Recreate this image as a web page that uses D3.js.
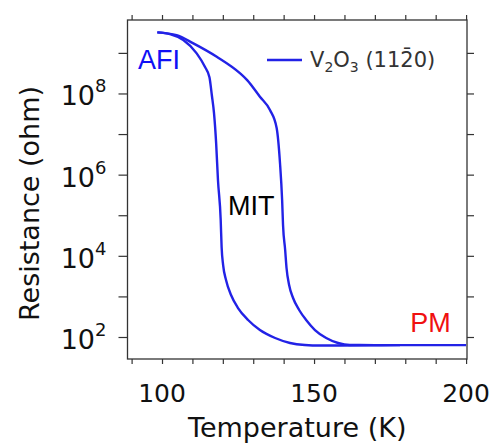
<!DOCTYPE html>
<html><head><meta charset="utf-8">
<script src="https://cdn.jsdelivr.net/npm/d3@7"></script>
<style>html,body{margin:0;padding:0;background:#fff;}svg{display:block;}</style>
</head><body>
<svg id="chart" width="496" height="448"></svg>
<script>
// Heating curve (outer branch), temperature in K and log10(R / ohm)
const heatTemp = [98.45,104.8,110.3,118.0,125.7,128.0,132.2,135.5,137.7,138.8,139.5,139.8,140.5,140.95,141.8,143.1,145.1,147.4,150.3,154.0,157.9,161.8,170.0,178.3];
const heatLogR = [9.505,9.438,9.234,8.904,8.495,8.33,7.919,7.591,7.148,6.286,5.374,4.759,4.143,3.700,3.281,2.961,2.665,2.419,2.172,1.975,1.852,1.803,1.80,1.80];
// Cooling curve (inner branch)
const coolTemp = [98.45,102.6,107.0,111.4,114.1,115.6,116.4,117.1,117.8,118.4,119.3,119.6,120.1,121.05,122.7,125.0,128.3,132.2,137.2,142.1,147.0,152.0,158.6,170.0,178.3,190.0,200.0];
const coolLogR = [9.505,9.463,9.315,8.988,8.658,8.40,7.95,7.517,6.778,5.867,4.882,4.217,3.773,3.404,3.034,2.714,2.419,2.172,1.975,1.852,1.803,1.79,1.79,1.795,1.80,1.80,1.80];
const xTickValues = [100,150,200];
const xMinorTicks = [90,100,110,120,130,140,150,160,170,180,190,200];
const yTickExps = [2,3,4,5,6,7,8,9];
const yLabelExps = [2,4,6,8];
const annotations = [
  {text:"AFI", t:92.1, logR:8.6, color:"#1010f5"},
  {text:"MIT", t:121.7, logR:5.0, color:"#000000"},
  {text:"PM", t:181.6, logR:2.13, color:"#f01010"}
];
const legendLabel = "V";

const svg = d3.select("#chart");
const L = 127.5, R = 467, T = 20, B = 359;
const x = d3.scaleLinear().domain([88.65, 200.3]).range([L, R]);
const y = d3.scaleLog().domain([Math.pow(10,1.458), Math.pow(10,9.81)]).range([B, T]);
const axisColor = "#333";

// frame
svg.append("rect").attr("x",L).attr("y",T).attr("width",R-L).attr("height",B-T)
  .attr("fill","none").attr("stroke",axisColor).attr("stroke-width",1.3);

// x axes (bottom & top)
const xb = d3.axisBottom(x).tickValues(xMinorTicks).tickSize(5).tickFormat("");
const gxb = svg.append("g").attr("transform",`translate(0,${B})`).call(xb);
const xt = d3.axisTop(x).tickValues(xMinorTicks).tickSize(5).tickFormat("");
const gxt = svg.append("g").attr("transform",`translate(0,${T})`).call(xt);
// y axes (left & right)
const yVals = yTickExps.map(e=>Math.pow(10,e));
const yl = d3.axisLeft(y).tickValues(yVals).tickSize(9).tickFormat("");
const gyl = svg.append("g").attr("transform",`translate(${L},0)`).call(yl);
const yr = d3.axisRight(y).tickValues(yVals).tickSize(7).tickFormat("");
const gyr = svg.append("g").attr("transform",`translate(${R},0)`).call(yr);
[gxb,gxt,gyl,gyr].forEach(g=>{
  g.select(".domain").remove();
  g.selectAll(".tick line").attr("stroke",axisColor).attr("stroke-width",1.2);
});

// x tick labels
svg.append("g").selectAll("text").data(xTickValues).join("text")
  .attr("x",d=>x(d)).attr("y",B+43).attr("text-anchor","middle")
  .attr("font-family","DejaVu Sans").attr("font-size",25).attr("fill","#111")
  .text(d=>d);

// y tick labels 10^n
const yl_g = svg.append("g");
yLabelExps.forEach(e=>{
  const t = yl_g.append("text").attr("x",L-21).attr("y",y(Math.pow(10,e))+12)
    .attr("text-anchor","end").attr("font-family","DejaVu Sans").attr("fill","#111");
  t.append("tspan").attr("font-size",27).text("10");
  t.append("tspan").attr("font-size",18).attr("dy",-13).text(e);
});

// axis titles
svg.append("text").attr("x",(L+R)/2).attr("y",437).attr("text-anchor","middle")
  .attr("font-family","DejaVu Sans").attr("font-size",27).attr("fill","#111")
  .text("Temperature (K)");
svg.append("text").attr("transform",`translate(39,${(T+B)/2+14}) rotate(-90)`)
  .attr("text-anchor","middle").attr("font-family","DejaVu Sans").attr("font-size",27).attr("fill","#111")
  .text("Resistance (ohm)");

// curves
const line = d3.line().x(d=>x(d[0])).y(d=>y(Math.pow(10,d[1]))).curve(d3.curveMonotoneX);
const curveColor = "#2222e6";
svg.append("path").datum(coolTemp.map((t,i)=>[t,coolLogR[i]]))
  .attr("d",line).attr("fill","none").attr("stroke",curveColor).attr("stroke-width",2.4);
svg.append("path").datum(heatTemp.map((t,i)=>[t,heatLogR[i]]))
  .attr("d",line).attr("fill","none").attr("stroke",curveColor).attr("stroke-width",2.4);

// legend
svg.append("line").attr("x1",267).attr("x2",302).attr("y1",60).attr("y2",60)
  .attr("stroke",curveColor).attr("stroke-width",2.4);
const lt = svg.append("text").attr("x",310).attr("y",67)
  .attr("font-family","DejaVu Sans").attr("font-size",21).attr("fill","#333");
lt.append("tspan").text(legendLabel);
lt.append("tspan").attr("font-size",14).attr("dy",5).text("2");
lt.append("tspan").attr("dy",-5).text("O");
lt.append("tspan").attr("font-size",14).attr("dy",5).text("3");
lt.append("tspan").attr("dy",-5).text(" (11");
lt.append("tspan").text("2\u0304");
lt.append("tspan").text("0)");

// annotations
svg.append("g").selectAll("text").data(annotations).join("text")
  .attr("x",d=>x(d.t)).attr("y",d=>y(Math.pow(10,d.logR)))
  .attr("font-family","Liberation Sans, Arial").attr("font-size",27)
  .attr("fill",d=>d.color).text(d=>d.text);
</script>
</body></html>
